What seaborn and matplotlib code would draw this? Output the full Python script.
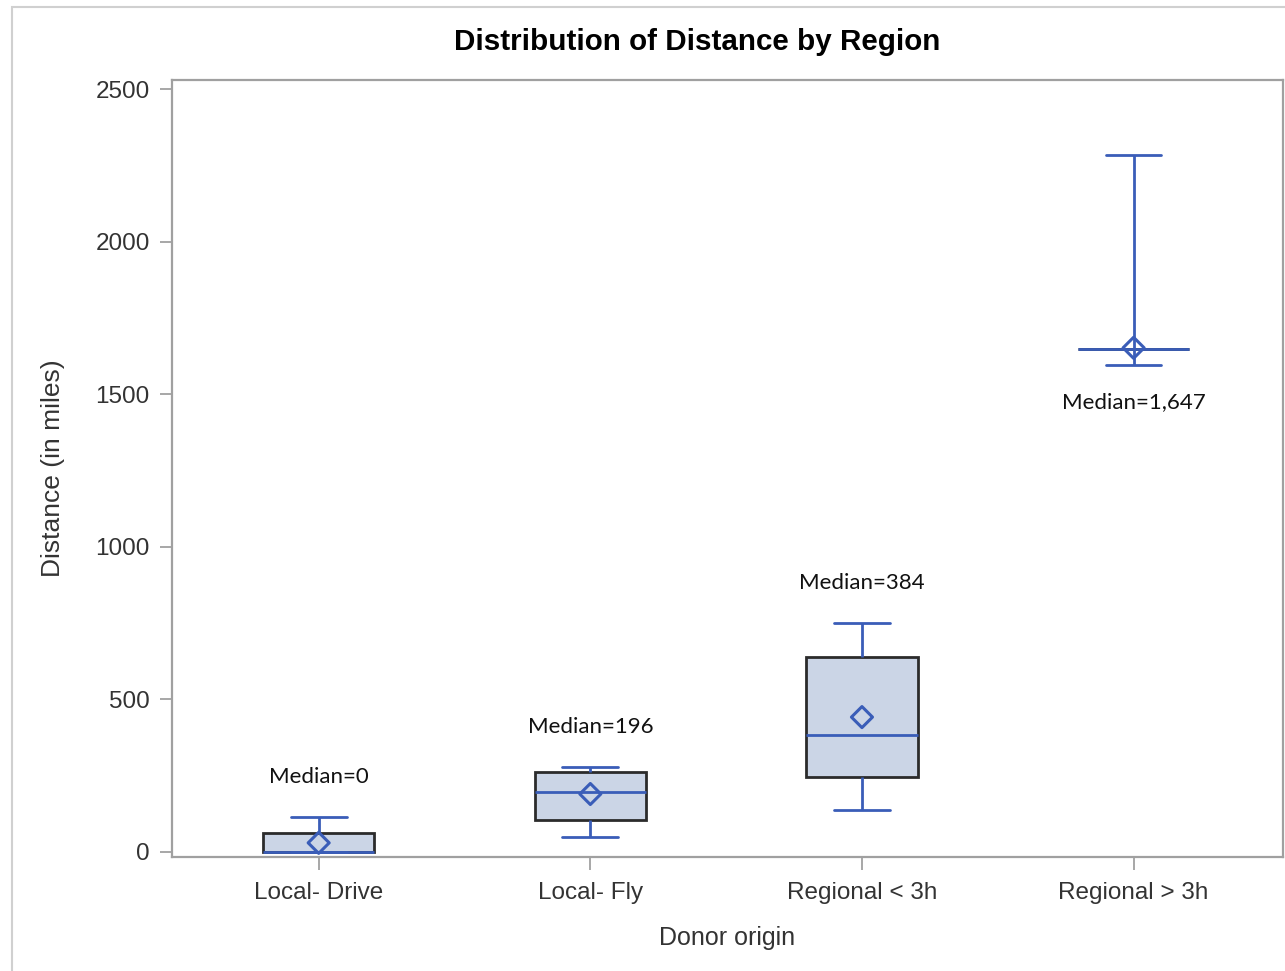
import matplotlib
matplotlib.use("Agg")
import matplotlib.pyplot as plt
from matplotlib.patches import Rectangle
import numpy as np
import pandas as pd
import seaborn as sns

# Five-number summaries per donor origin (min, Q1, median, Q3, max), in miles
regions = ["Local- Drive", "Local- Fly", "Regional < 3h", "Regional > 3h"]
dist_min = [0, 49, 138, 1596]
dist_q1 = [0, 105, 246, 1647]
dist_median = [0, 196, 384, 1647]
dist_q3 = [62, 262, 639, 1647]
dist_max = [115, 278, 750, 2284]
dist_mean = [30, 190, 442, 1652]
median_labels = ["Median=0", "Median=196", "Median=384", "Median=1,647"]

# Long-form table whose quartiles reproduce the summaries exactly
rows = []
for i, r in enumerate(regions):
    for v in (dist_min[i], dist_q1[i], dist_median[i], dist_q3[i], dist_max[i]):
        rows.append({"region": r, "distance": v})
df = pd.DataFrame(rows)
means = pd.DataFrame({"region": regions, "distance": dist_mean})

sns.set_theme(style="white")
plt.rcParams["font.family"] = ["Liberation Sans", "DejaVu Sans"]

BLUE = "#3A5DB8"
EDGE = "#2B2B2B"
FILL = "#CBD5E6"
AXIS = "#A0A0A0"
TEXT = "#333333"

fig = plt.figure(figsize=(12.85, 9.71), dpi=100)
ax = fig.add_axes([172 / 1285, 1 - 857 / 971, (1283 - 172) / 1285, (857 - 80) / 971])

# Whiskers run from the minimum to the maximum of each group
sns.boxplot(
    data=df, x="region", y="distance", order=regions, ax=ax,
    whis=(0, 100), width=0.41, linewidth=2.0,
    boxprops=dict(facecolor=FILL, edgecolor=EDGE, linewidth=2.0),
    whiskerprops=dict(color=BLUE, linewidth=2.0),
    capprops=dict(color=BLUE, linewidth=2.0),
    medianprops=dict(color=BLUE, linewidth=2.0),
    showfliers=False,
)

sns.scatterplot(
    data=means, x="region", y="distance", ax=ax, marker="D", s=115,
    facecolor="none", edgecolor=BLUE, linewidth=2.2, zorder=5, legend=False,
)

# Median annotations: above the upper whisker, or below the lower one for the last group
for i, lab in enumerate(median_labels):
    if i < 3:
        ax.annotate(lab, (i, dist_max[i]), xytext=(0, 29), textcoords="offset points",
                    ha="center", va="center", fontsize=16, color="#111111",
                    family=["Lato", "DejaVu Sans"])
    else:
        ax.annotate(lab, (i, dist_min[i]), xytext=(0, -27), textcoords="offset points",
                    ha="center", va="center", fontsize=16, color="#111111",
                    family=["Lato", "DejaVu Sans"])

ax.set_ylim(-16.4, 2529.5)
ax.set_xlim(-0.54, 3.55)
ax.set_yticks([0, 500, 1000, 1500, 2000, 2500])

for s in ax.spines.values():
    s.set_visible(True)
    s.set_color(AXIS)
    s.set_linewidth(1.6)

ax.tick_params(axis="both", which="major", direction="out", length=9, width=1.3,
               color=AXIS, labelcolor=TEXT, labelsize=17.5, left=True, bottom=True)
ax.tick_params(axis="y", pad=7)
ax.tick_params(axis="x", pad=9)

ax.set_xlabel("Donor origin", fontsize=18, color=TEXT, labelpad=16)
ax.set_ylabel("Distance (in miles)", fontsize=19, color=TEXT, labelpad=22)

fig.text(697 / 1285, 1 - 42 / 971, "Distribution of Distance by Region",
         ha="center", va="center", fontsize=21.3, fontweight="bold", color="#000000")

# Light outer frame of the graph area
fig.patches.append(Rectangle((12 / 1285, -0.01), 1.05, 1 - 7 / 971 + 0.01,
                             transform=fig.transFigure, fill=False,
                             edgecolor="#D0D0D0", linewidth=1.5))

fig.savefig("out.png", dpi=100)
